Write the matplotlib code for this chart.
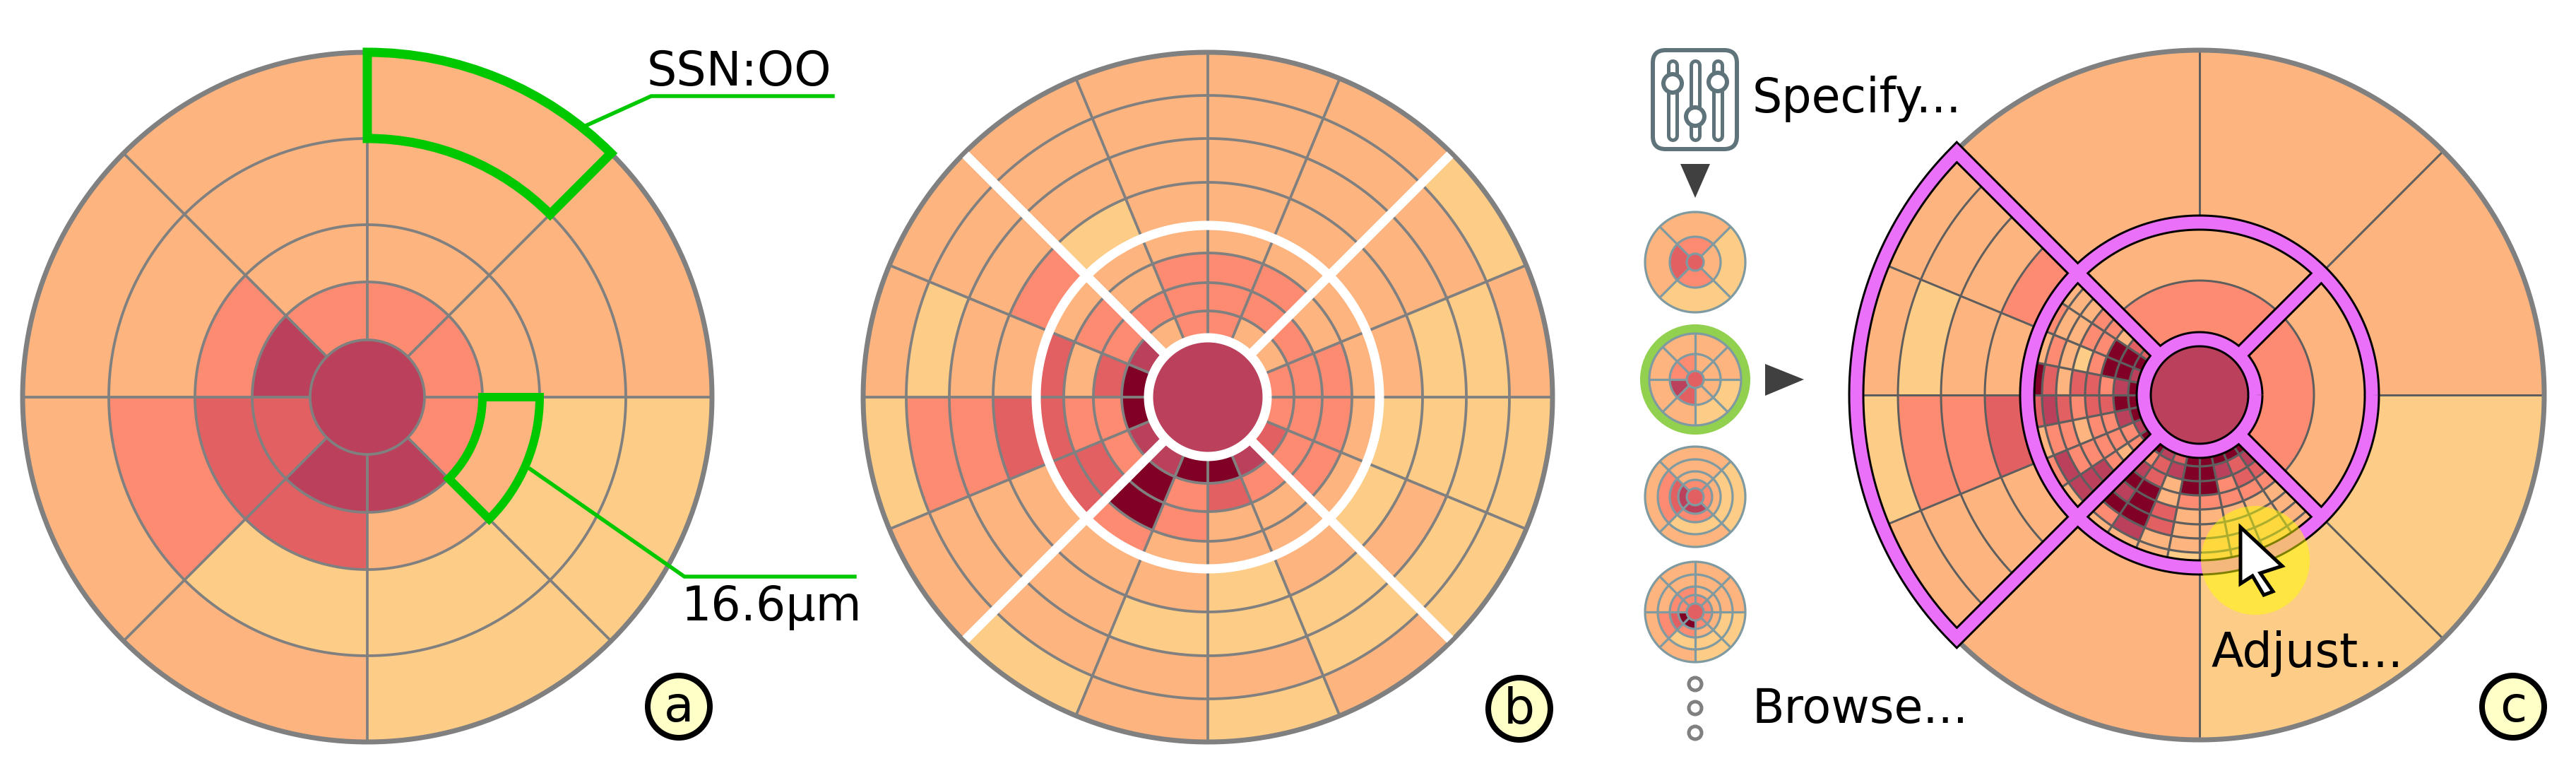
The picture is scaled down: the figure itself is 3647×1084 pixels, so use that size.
import numpy as np
import matplotlib
matplotlib.use('Agg')
import matplotlib.pyplot as plt
from matplotlib.patches import Wedge, Circle, Polygon, FancyBboxPatch

# colour steps, lightest to darkest
palette = ['#FDCC86', '#FDB47E', '#FC8B72', '#E25F62', '#BB405B', '#800026']

# panel a: 8 sectors (ccw from east), rings from inside to outside
a_radii = [81, 163, 244, 366, 488]
a_values = [[2, 1, 1, 1], [2, 1, 1, 1], [2, 1, 1, 1], [4, 2, 1, 1],
            [3, 3, 2, 1], [4, 3, 0, 1], [4, 1, 0, 0], [2, 1, 0, 0]]

# panel b: 16 sectors, 8 rings
b_radii = [82, 122, 162, 204, 243, 304, 366, 427, 488]
b_values = [[2, 2, 2, 1, 1, 0, 0, 1],
            [1, 2, 1, 1, 1, 1, 1, 0],
            [1, 2, 2, 1, 1, 1, 1, 1],
            [2, 2, 2, 1, 1, 1, 1, 1],
            [2, 2, 2, 1, 1, 1, 1, 1],
            [1, 2, 1, 1, 0, 1, 1, 1],
            [4, 2, 2, 1, 2, 1, 1, 1],
            [5, 3, 1, 3, 1, 1, 0, 1],
            [5, 2, 2, 3, 3, 2, 2, 0],
            [4, 2, 3, 3, 1, 1, 1, 1],
            [4, 5, 5, 2, 1, 1, 1, 0],
            [5, 2, 2, 1, 1, 0, 1, 1],
            [5, 3, 1, 1, 0, 0, 1, 0],
            [4, 2, 1, 1, 1, 0, 0, 1],
            [3, 2, 2, 1, 0, 1, 0, 0],
            [2, 2, 2, 1, 0, 0, 0, 0]]

# panel c: coarse outer sectors and the two refined quadrants
c_outer = {0: 1, 1: 1, 2: 1, 5: 1, 6: 0, 7: 0}
c_fine_radii = [81, 101, 122, 142, 162, 183, 203, 223, 243]
c_left = [[3, 3, 1, 2, 2, 1, 1, 1],
          [5, 5, 5, 2, 2, 1, 1, 2],
          [4, 5, 5, 2, 0, 1, 2, 1],
          [5, 4, 2, 3, 3, 1, 3, 5],
          [5, 5, 3, 3, 2, 3, 4, 3],
          [5, 4, 2, 2, 1, 2, 2, 1],
          [4, 2, 2, 2, 2, 2, 4, 2],
          [5, 2, 1, 2, 4, 4, 4, 1]]
c_bottom = [[5, 2, 4, 5, 4, 5, 2, 1],
            [4, 3, 3, 5, 5, 5, 4, 1],
            [3, 4, 1, 1, 3, 3, 1, 1],
            [5, 5, 5, 2, 1, 1, 1, 0],
            [5, 5, 5, 2, 1, 1, 1, 1],
            [5, 4, 2, 2, 1, 1, 1, 1],
            [5, 3, 3, 2, 1, 1, 1, 1],
            [5, 4, 3, 2, 1, 1, 1, 1]]

# small previews
thumb_radii = [[12, 36, 71], [12, 36, 65], [12, 24, 36, 53, 71], [12, 24, 36, 53, 71]]
thumb_values = [
    [[1, 0], [2, 1], [3, 1], [2, 0]],
    [[1, 1], [1, 1], [2, 1], [2, 1], [4, 1], [3, 1], [1, 0], [1, 0]],
    [[2, 1, 0, 0], [2, 1, 1, 1], [4, 3, 2, 1], [4, 2, 0, 1]],
    [[2, 1, 1, 1], [2, 1, 1, 1], [2, 2, 1, 1], [2, 2, 1, 1],
     [5, 3, 2, 1], [5, 2, 0, 1], [2, 1, 0, 0], [2, 1, 0, 0]],
]
thumb_center = [3, 3, 3, 3]
thumb_y = [371, 537, 703, 866]

PX = 0.72  # pixels to points at dpi 100
GRAY = '#808080'
DARK = '#5E5E5E'
TEAL = '#7F9AA0'
GREEN = '#00C800'
PINK = '#EA70FA'
FONT = 48

fig = plt.figure(figsize=(36.47, 10.84), dpi=100)
ax = fig.add_axes([0, 0, 1, 1])
ax.set_xlim(0, 3647)
ax.set_ylim(1084, 0)
ax.axis('off')


def pol(cx, cy, r, deg):
    t = np.radians(deg)
    return cx + r * np.cos(t), cy - r * np.sin(t)


def cell(cx, cy, r0, r1, a0, a1, idx):
    ax.add_patch(Wedge((cx, cy), r1, -a1, -a0, width=r1 - r0, fc=palette[idx],
                       ec=palette[idx], lw=0.4))


def arc(cx, cy, r, a0, a1, color, lw, z=3):
    t = np.linspace(a0, a1, 240)
    x, y = pol(cx, cy, r, t)
    ax.plot(x, y, color=color, lw=lw * PX, zorder=z, solid_capstyle='butt')


def spoke(cx, cy, r0, r1, deg, color, lw, z=3):
    x0, y0 = pol(cx, cy, r0, deg)
    x1, y1 = pol(cx, cy, r1, deg)
    ax.plot([x0, x1], [y0, y1], color=color, lw=lw * PX, zorder=z, solid_capstyle='butt')


def disc(cx, cy, radii, values, center, start=0, color=GRAY, lw=3.8, border=7):
    n = len(values)
    step = 360 / n
    for s, row in enumerate(values):
        for i, v in enumerate(row):
            cell(cx, cy, radii[i], radii[i + 1], start + s * step, start + (s + 1) * step, v)
    ax.add_patch(Circle((cx, cy), radii[0], fc=palette[center], ec='none', zorder=2))
    for r in radii[:-1]:
        arc(cx, cy, r, 0, 360, color, lw)
    for s in range(n):
        spoke(cx, cy, radii[0], radii[-1], start + s * step, color, lw)
    arc(cx, cy, radii[-1], 0, 360, color, border, z=4)


def badge(x, y, s):
    ax.add_patch(Circle((x, y), 44, fc='#FFFFC8', ec='black', lw=8 * PX, zorder=8))
    ax.text(x, y + 21, s, fontsize=50, ha='center', va='baseline', color='black', zorder=9)


# panel a
ax_c = (520, 562)
disc(ax_c[0], ax_c[1], a_radii, a_values, 4)
ax.add_patch(Wedge(ax_c, 488, -90, -45, width=122, fc='none', ec=GREEN, lw=13 * PX,
                   joinstyle='miter', zorder=6))
ax.add_patch(Wedge(ax_c, 244, 0, 45, width=81, fc='none', ec=GREEN, lw=12 * PX,
                   joinstyle='miter', zorder=6))
ax.plot([829, 922, 1179], [178, 136, 136], color=GREEN, lw=5.5 * PX, zorder=5)
ax.plot([751, 969, 1210], [664, 816, 816], color=GREEN, lw=5.5 * PX, zorder=5)
ax.text(916, 121, 'SSN:OO', fontsize=FONT, va='baseline', zorder=7)
ax.text(965, 878, '16.6µm', fontsize=FONT, va='baseline', zorder=7)
badge(961, 1000, 'a')

# panel b
bx, by = 1710, 562
disc(bx, by, b_radii, b_values, 4)
for d in [45, 135, 225, 315]:
    spoke(bx, by, 84, 485, d, 'white', 13, z=5)
arc(bx, by, 84, 0, 360, 'white', 13, z=5)
arc(bx, by, 243, 0, 360, 'white', 13, z=5)
badge(2151, 1003, 'b')

# panel c
cx, cy = 3114, 559
for s, v in c_outer.items():
    cell(cx, cy, 243, 488, s * 45, (s + 1) * 45, v)
for j in range(6, 10):
    for i in range(4, 8):
        cell(cx, cy, b_radii[i], b_radii[i + 1], j * 22.5, (j + 1) * 22.5, b_values[j][i])
# top and right quadrants keep the coarse two rings
for a0 in [-45, 45]:
    cell(cx, cy, 81, 162, a0, a0 + 90, 2)
    cell(cx, cy, 162, 243, a0, a0 + 90, 1)
for q, rows in [(135, c_left), (225, c_bottom)]:
    for k, row in enumerate(rows):
        for i, v in enumerate(row):
            cell(cx, cy, c_fine_radii[i], c_fine_radii[i + 1], q + k * 11.25, q + (k + 1) * 11.25, v)
ax.add_patch(Circle((cx, cy), 81, fc=palette[4], ec='none', zorder=2))
arc(cx, cy, 162, -45, 135, DARK, 3)
for d in [0, 45, 90, 270, 315]:
    spoke(cx, cy, 243, 488, d, DARK, 3)
for r in b_radii[5:8]:
    arc(cx, cy, r, 135, 225, DARK, 3)
for d in [157.5, 180, 202.5]:
    spoke(cx, cy, 243, 488, d, DARK, 3)
for r in c_fine_radii[1:-1]:
    arc(cx, cy, r, 135, 315, DARK, 3.2)
for k in range(17):
    spoke(cx, cy, 81, 243, 135 + k * 11.25, DARK, 3.2)
arc(cx, cy, 488, -135, 135, GRAY, 7, z=4)

# pink selection frame: black stroke first, pink on top so the joins merge
frame_t = np.linspace(135, 225, 200)
fx, fy = pol(cx, cy, 486, frame_t)
p0 = pol(cx, cy, 244, 135)
p1 = pol(cx, cy, 244, 225)
frame_x = np.r_[p0[0], fx, p1[0]]
frame_y = np.r_[p0[1], fy, p1[1]]
for color, w, z in [('black', 23, 5), (PINK, 17, 6)]:
    ax.plot(frame_x, frame_y, color=color, lw=w * PX, zorder=z,
            solid_joinstyle='miter', solid_capstyle='butt')
    arc(cx, cy, 244, 0, 360, color, w, z=z)
    arc(cx, cy, 79, 0, 360, color, w, z=z)
    for d in [45, 135, 225, 315]:
        spoke(cx, cy, 79, 244, d, color, w, z=z)

ax.add_patch(Circle((3193, 793), 77, fc='#FFFF00', ec='none', alpha=0.5, zorder=7))
cursor = [(3172, 746), (3231, 801), (3200, 811), (3218, 837), (3205, 842), (3189, 815), (3172, 826)]
ax.add_patch(Polygon(cursor, closed=True, fc='white', ec='black', lw=5 * PX, joinstyle='miter', zorder=8))
ax.text(3130, 944, 'Adjust...', fontsize=FONT, va='baseline', zorder=9)
badge(3558, 1000, 'c')

# previews column
ax.add_patch(Circle((2400, 537), 78, fc='#92D050', ec='none', zorder=1))
for n in range(4):
    start = -45 if len(thumb_values[n]) == 4 else 0
    disc(2400, thumb_y[n], thumb_radii[n], thumb_values[n], thumb_center[n], start=start,
         color=TEAL, lw=3.2, border=3.2)

# slider icon
ICON = '#5F737B'
ax.add_patch(FancyBboxPatch((2352, 83), 95, 116, boxstyle='round,pad=12,rounding_size=18',
                            fc='white', ec=ICON, lw=6 * PX))
for x, ky in [(2368, 118), (2400, 165), (2432, 116)]:
    ax.plot([x, x], [92, 192], color=ICON, lw=17 * PX, solid_capstyle='round')
    ax.plot([x, x], [92, 192], color='white', lw=7 * PX, solid_capstyle='round')
    ax.add_patch(Circle((x, ky), 13, fc='white', ec=ICON, lw=6 * PX, zorder=3))

ax.add_patch(Polygon([(2379, 232), (2421, 232), (2400, 280)], closed=True, fc='#404040', ec='none'))
ax.add_patch(Polygon([(2499, 515), (2554, 537), (2499, 560)], closed=True, fc='#404040', ec='none'))
for y in [968, 1002, 1037]:
    ax.add_patch(Circle((2400, y), 9, fc='white', ec=GRAY, lw=5 * PX))
ax.text(2481, 159, 'Specify...', fontsize=FONT, va='baseline')
ax.text(2481, 1023, 'Browse...', fontsize=FONT, va='baseline')

fig.savefig('out.png', dpi=100, facecolor='white')
